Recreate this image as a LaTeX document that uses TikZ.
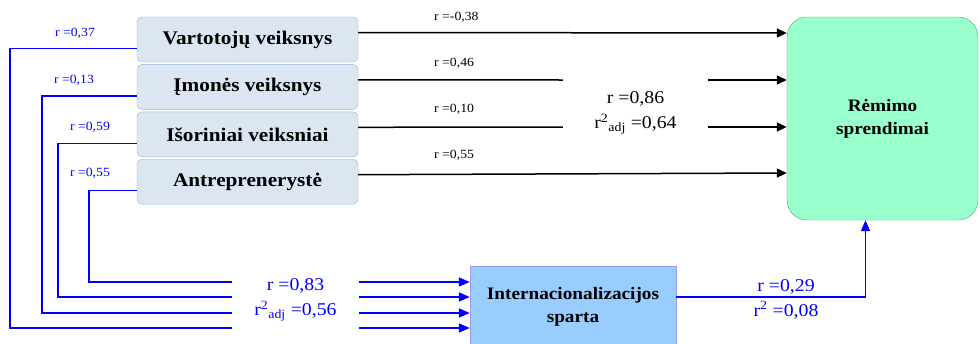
\documentclass[tikz,border=0pt]{standalone}
\usepackage{fontspec}
\setmainfont{Liberation Serif}[FakeStretch=1.1]
\usetikzlibrary{arrows.meta,positioning,calc}
\definecolor{facfill}{HTML}{DCE6F2}
\definecolor{facdraw}{HTML}{95B3D7}
\definecolor{goalfill}{HTML}{99FFCC}
\definecolor{goaldraw}{HTML}{33BB66}
\definecolor{intlfill}{HTML}{99CCFF}
\definecolor{intldraw}{HTML}{9999FF}

\begin{document}
\begin{tikzpicture}[x=1pt,y=-1pt,
  node distance=2pt,
  fac/.style ={rectangle,draw=facdraw,fill=facfill,rounded corners=5pt,
               minimum width=221pt,minimum height=45pt,font=\fontsize{19.3}{22}\selectfont\bfseries},
  goal/.style={rectangle,draw=goaldraw,fill=goalfill,rounded corners=20pt,
               minimum width=191pt,minimum height=203pt,align=center,font=\fontsize{17.5}{23}\selectfont\bfseries},
  intl/.style={rectangle,draw=intldraw,fill=intlfill,
               minimum width=206pt,minimum height=82pt,align=center,font=\fontsize{17.5}{23}\selectfont\bfseries},
  lab/.style ={font=\fontsize{12.5}{14}\selectfont,inner sep=0pt},
  big/.style ={font=\fontsize{18}{25}\selectfont,align=center,inner sep=0pt},
  ln/.style  ={line width=1.5pt},
  arr/.style ={-{Triangle[length=10pt,width=9pt]},line width=1.5pt},
  bline/.style={blue,line width=1.5pt},
  barr/.style={-{Triangle[length=11pt,width=9pt]},blue,line width=1.5pt}
]
\useasboundingbox (0,0) rectangle (980,343);

\node[fac] at (247.5,39.5) (v){Vartotojų veiksnys};
\node[fac,below=of v](i){Įmonės veiksnys};
\node[fac,below=of i](s){Išoriniai veiksniai};
\node[fac,below=of s](a){Antreprenerystė};

\node[goal] at (882.5,118.5)(rs){Rėmimo\\sprendimai};
\node[intl] at (573,307)(ip){Internacionalizacijos\\sparta};

\node[big,minimum width=145pt] at (635.5,113)(mid){r =0,86\\r\textsuperscript{2}\textsubscript{adj} =0,64};
\node[big,blue,minimum width=127pt] at (295.5,300)(bl){r =0,83\\r\textsuperscript{2}\textsubscript{adj} =0,56};
\node[big,blue] at (786,299)(out){r =0,29\\r\textsuperscript{2} =0,08};

\node[lab,anchor=west] at (434,17)(l1){r =-0,38};
\node[lab,anchor=west] at (434,63)(l2){r =0,46};
\node[lab,anchor=west] at (434,109)(l3){r =0,10};
\node[lab,anchor=west] at (434,155)(l4){r =0,55};

\node[lab,blue] at (75,33)(b1){r =0,37};
\node[lab,blue] at (74,80)(b2){r =0,13};
\node[lab,blue] at (90,127)(b3){r =0,59};
\node[lab,blue] at (90,173)(b4){r =0,55};

% direct paths
\draw[arr]([yshift=7pt]v.east)--(rs.west |- 0,33);
\draw[ln]([yshift=7pt]i.east)--(mid.west |- 0,80);
\draw[arr](mid.east |- 0,80)--(rs.west |- 0,80);
\draw[ln]([yshift=7pt]s.east)--(mid.west |- 0,127);
\draw[arr](mid.east |- 0,127)--(rs.west |- 0,127);
\draw[arr]([yshift=7pt]a.east)--(rs.west |- 0,173);

% paths through internationalisation
\draw[bline]([yshift=-9pt]v.west)-|(10,328)--(bl.west |- 0,328);
\draw[bline]([yshift=-9pt]i.west)-|(42,313)--(bl.west |- 0,313);
\draw[bline]([yshift=-9pt]s.west)-|(58,297)--(bl.west |- 0,297);
\draw[bline]([yshift=-9pt]a.west)-|(89,282)--(bl.west |- 0,282);
\draw[barr](bl.east |- 0,328)--(ip.west |- 0,328);
\draw[barr](bl.east |- 0,313)--(ip.west |- 0,313);
\draw[barr](bl.east |- 0,297)--(ip.west |- 0,297);
\draw[barr](bl.east |- 0,282)--(ip.west |- 0,282);
\draw[barr](ip.east |- 0,297)-|([xshift=-17pt]rs.south);
\end{tikzpicture}
\end{document}
